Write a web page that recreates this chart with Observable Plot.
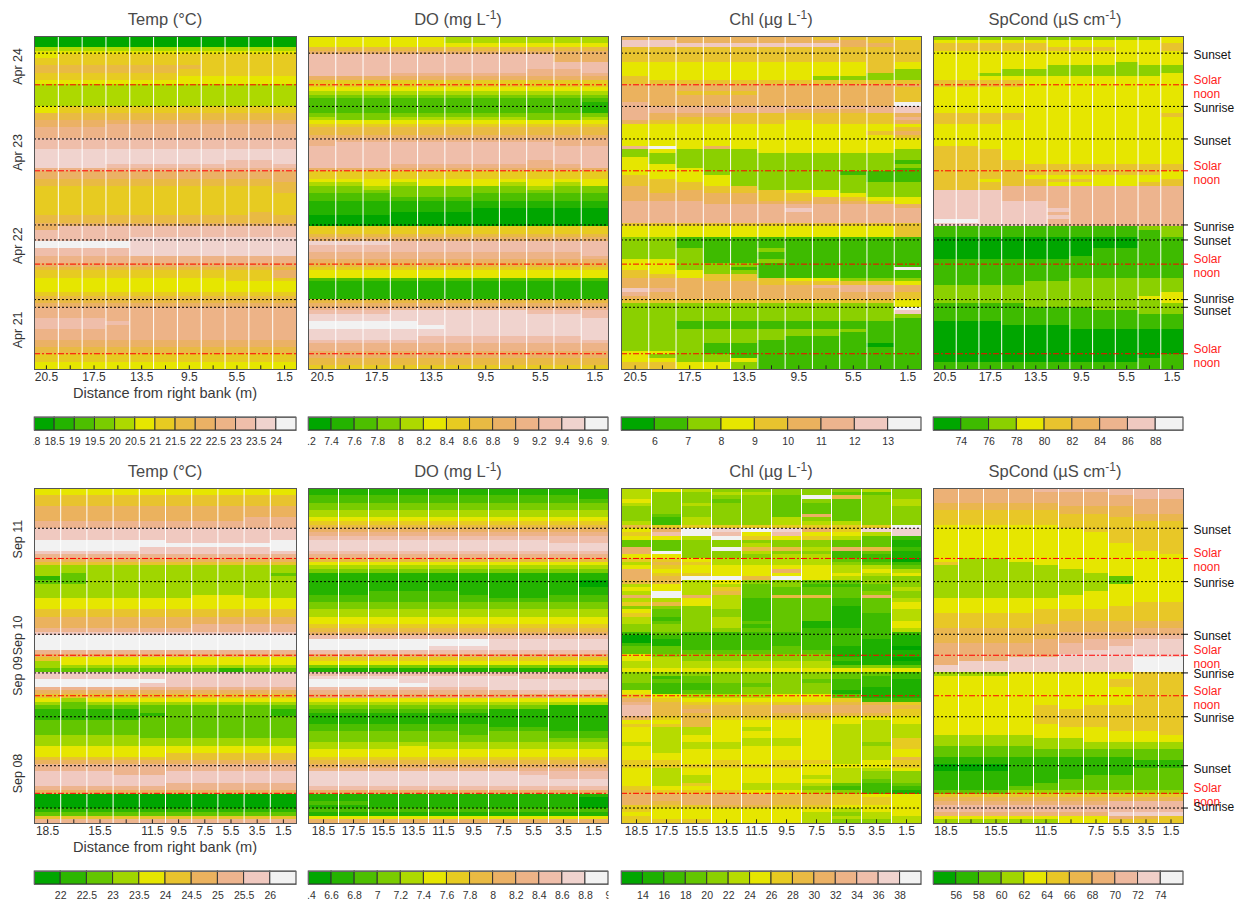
<!DOCTYPE html>
<html>
<head>
<meta charset="utf-8">
<script src="https://cdn.jsdelivr.net/npm/d3@7"></script>
<script src="https://cdn.jsdelivr.net/npm/@observablehq/plot@0.6"></script>
<style>
  html, body { margin: 0; padding: 0; background: #fff; }
  #page { position: relative; width: 1237px; height: 905px; overflow: hidden; font-family: "Liberation Sans", Arial, sans-serif; }
  #page svg { position: absolute; }
  .title { position: absolute; transform: translate(-50%, -50%); font-size: 16.5px; color: #4a4a4a; white-space: nowrap; }
  .title sup { font-size: 12px; line-height: 0; vertical-align: 6px; }
  .xname { position: absolute; transform: translate(-50%, -50%); font-size: 14.6px; color: #3a3a3a; white-space: nowrap; }
</style>
</head>
<body>
<div id="page"></div>
<script>
// Each entry is a run of time rows: "NxCCC" = N rows, no prefix = 1 row.
// Characters are colour classes (base 36); one character means the whole row.
const tempApr = ["3x0","4","5","56666666666","2x6","77777776666","77777766666","6","66666655555","5","6x4","2x56666666666","2x7","8","88899999999","3x9","3xa","3xb","bbbbbbbbaab","bbbaaaaaaaa","9","2x8","77777777778","7","2x66666666667","5x6","66666666676","2x7","8","8aaaaaaaaaa","2xa","aaaabbbbbbb","2xccccbbbbbbb","2xaaaabbbbbbb","2x9","8","7","2x66666666668","55555555666","3x5","6","2x7","8","3x9","aaa99999999","aaaa9999999","aaa99999999","3x9","2x8","2x7","2x6","2x5"];
const doApr = ["2x55555444444","5","7","8","2xaaaaaaaaa88","2xa","aaaaaaaa99a","aaa99999999","8","6","6","5","4","3","2","22222222221","22222222221","22222222221","3","43344444334","5","6","2x7","8","9","9aaaaaaaa99","4xa","aaaaaaaa9aa","aaa9999999a","8","6","6","5","44545554545","33433333433","3","22233322222","2","2x1","11111100000","11100000000","3x0","2x6","7","8","bbbaaaaaaaa","2xa","9999999999a","9","8","7","6","2x5","2","5x1","7","8","9","aaabbbbbaaa","bbbbbbbbbba","b","ccccbbbbbbb","cccccbbbbbb","2xb","bbbbaaaaaab","a","2x9","2x8","2x7","6"];
const chlApr = ["55555554443","77555555544","77777777554","4x4","33333333343","33333333343","33333333342","33333333322","43333332222","4","5","55555555554","55444555554","55555555554","55555555554","65555555558","66666666667","66666655567","65554444445","65444444446","54444434445","3","33333333334","33333333345","33333333334","2x3","68353333333","23222333332","2","32222222222","32222222221","33222222222","33322222221","33322222111","43332222211","44332222211","44432222222","54444222222","54544433222","55555443322","55555445433","66655555543","66666666665","66666676666","3x6","4","3x33333333334","22111111111","22111111111","22111111111","22211211111","22211111111","22211111111","33211211111","33222111111","33221111118","43322111111","44344111111","55544433222","55555444443","55555556665","76555555665","65555555554","55555555554","44444444443","22222222223","22222222228","22222222227","2","22222222221","2x22111111111","22222222211","22222222111","22222211111","22222111111","22211111101","22211111111","33211111111","32221111111","33223111111","44332111111","44332111111"];
const spApr = ["22222222223","3","44444333334","44444444334","3","2x3","33333333233","33333222222","33322222222","33222222223","3","44443333333","44443333333","7x3","44443333334","44443333333","44433333333","6x3","44333333333","3x44433333333","44443333333","2x4","44444444443","44443333333","44344443334","44444333344","44466666666","2x77766666666","77766666666","2x77777666666","77777766666","77777666666","77777766666","88777666666","77777666666","11111111122","2x11111111112","3x00000000011","00000001111","00000001111","00000011111","5x1","11111122222","11112222222","2x2","22222222223","22222222233","22222222223","11112222222","11111112222","11111111122","1","1","00011111111","00000011111","7x0","00000000001","00000000011","2x1"];
const tempSep = ["2x4","3x5","3x6","6666666677","2x7","3x8","9999988889","9","9999888889","8","7","6","5","2x3","3233333332","1233333333","2233333333","3x3","3333334433","3x4","5","5","6","6","6666667777","7","8","4x9","7","6","5444444444","3444444444","3","2222222122","2x8","9999988888","9999888888","7","6","5","4344444444","3233333333","2","1111222221","1111122221","1111222222","3x2","2","3333222222","2x3","4","4","4444455555","5","6","2x7","8887788888","2x8","8888877777","7","6","4x0","1","2","5","7"];
const doSep = ["2x1","2222222221","2","2x3","4","4","5","6","7","8","9","a","bbbbbbbbaa","2xb","a","9","7","5","4","3","1","1","1111111110","1111111110","1","1122211111","2222221122","2","2x3","2x4","2x5","6","7","8","a","2xccccccbbbb","ccccbbbbbb","a","8","6","5","3","1","a","bbbbbbbaaa","cccbbbbbbb","ccccbbbbbb","aaaaaabbbb","9999999aaa","8","5","4","3333333311","2222221111","3x1","2222221111","2222222211","3333323322","3333333322","3","4","4445444444","2x5","6","7","8","9","bbbbbbbaaa","bbbbbbbbaa","2xb","a","8","1","1111111110","2211111110","1111111110","2","1","5","8"];
const chlSep = ["5654444454","5445544334","544443d844","6443434345","5454433345","4444433344","4444433344","4344439344","4254454344","5254455544","877777777d","69dcdc97cc","7bdb6b665c","665d767532","3344444331","3344544331","934d885982","9d44544231","6644455221","7765555320","5875555432","6766666553","9666696565","9776666656","98dd8d6544","8856443344","5655342234","6657333335","5d58333344","9d95388394","5565233235","7865233236","4445233136","6344233135","7344233125","5245233125","5345331126","4445231126","4444332225","2322222222","0222222221","0122222211","2122222211","3322232110","3333333111","6444444111","6544444210","5555555111","5555555343","6","4444444332","4234444322","4334443221","3223344221","3223444211","6233444111","7655566311","9766666722","a877777887","b888899998","b898899997","b888888887","9787777666","6686666656","7786666555","6556566555","6556666555","6566666555","6566556557","5555556547","6555666557","6566666556","6666666556","6666666558","7767677567","7777776667","6566666556","6566666544","6556665544","6556666534","6576555323","7666554222","8777665421","9999988766","9999988776","9899988776","7778877666","7666666566","6666665456","7666665555","7776665445"];
const spSep = ["7777888888","7777777888","7777777788","7","6666677777","6666666677","5555566677","5555555666","5555555566","5","4444455555","4444445555","3x4444444555","2x4444444455","4444444445","4","4334444444","5333444444","3333344444","3333334444","3333333444","3333333244","3333333244","2x3333333444","3333334444","3333344444","4","4444444455","4444444555","4444555555","2x5","5555566666","5555666666","6666666677","6666677777","6666677788","6666778899","7777788899","7777788999","7777789999","7777799999","77799999aa","79999999aa","2x99999999aa","3334444455","4444444455","2x4444444555","4444444455","3x4444444455","4444444455","4444545555","4x4444555555","4444455555","4444444555","4444444445","3333444444","3333334444","3","2222333333","2","2222222222","1111111122","1","0001111111","0001111122","1111111122","1111112222","1111122222","1111222222","1112222222","2223333333","5","6","7777777888","8","8","7777777999","4444444765","3333344555"];

const colsApr = ["20.5","18.5","17.5","15.5","13.5","11.5","9.5","7.5","5.5","3.5","1.5"];
const colsSep = ["18.5","17.5","15.5","13.5","11.5","9.5","7.5","5.5","3.5","1.5"];
const shownApr = ["20.5","17.5","13.5","9.5","5.5","1.5"];
const shownTempSep = ["18.5","15.5","11.5","9.5","7.5","5.5","3.5","1.5"];
const shownSpSep = ["18.5","15.5","11.5","7.5","5.5","3.5","1.5"];

// Day-marker lines, in time rows from the top of a panel
const sunAprRows = [4.55, 19.1, 28, 51.5, 55.6, 71.9, 74];
const noonAprRows = [13.2, 36.7, 62.2, 86.7];
const sunSepRows = [10.8, 25.3, 39.6, 50.1, 62, 75.3, 86.8];
const noonSepRows = [19, 45.3, 56.3, 82.8];

const datesApr = ["Apr 24","Apr 23","Apr 22","Apr 21"];
const dateRowsApr = [13.2, 36.7, 62.2, 85.2];
const datesSep = ["Sep 11","Sep 10","Sep 09","Sep 08"];
const dateRowsSep = [19, 45.3, 56.3, 82.8];

const sideTextApr = ["Sunset","Solar\nnoon","Sunrise","Sunset","Solar\nnoon","Sunrise","Sunset","Solar\nnoon","Sunrise","Sunset","Solar\nnoon"];
const sideRowsApr = [4.9, 13.66, 19.5, 28.3, 37.2, 51.8, 55.8, 62.6, 71.5, 74.9, 87.1];
const sideTextSep = ["Sunset","Solar\nnoon","Sunrise","Sunset","Solar\nnoon","Sunrise","Solar\nnoon","Sunrise","Sunset","Solar\nnoon","Sunrise"];
const sideRowsSep = [11.07, 19.2, 25.5, 39.9, 45.6, 50.3, 56.7, 62.2, 76.1, 83, 86.4];

// Colour-key class breaks
const keyTempApr = [18,18.5,19,19.5,20,20.5,21,21.5,22,22.5,23,23.5,24,24.5];
const keyDoApr = [7.2,7.4,7.6,7.8,8,8.2,8.4,8.6,8.8,9,9.2,9.4,9.6,9.8];
const keyChlApr = [5,6,7,8,9,10,11,12,13,14];
const keySpApr = [72,74,76,78,80,82,84,86,88,90];
const keyTempSep = [21.5,22,22.5,23,23.5,24,24.5,25,25.5,26,26.5];
const keyDoSep = [6.4,6.6,6.8,7,7.2,7.4,7.6,7.8,8,8.2,8.4,8.6,8.8,9];
const keyChlSep = [12,14,16,18,20,22,24,26,28,30,32,34,36,38,40];
const keySpSep = [54,56,58,60,62,64,66,68,70,72,74,76];

const ROWS = 91;
const page = document.getElementById("page");

// R's terrain.colors(n)
function terrain(n) {
  const k = Math.floor(n / 2);
  const seq = (a, b, m) => d3.range(m).map(i => m === 1 ? a : a + (b - a) * i / (m - 1));
  const hsv = (h, s, v) => {
    const f = (q) => { const c = (q + h * 6) % 6; return v - v * s * Math.max(0, Math.min(c, 4 - c, 1)); };
    return d3.rgb(f(5) * 255, f(3) * 255, f(1) * 255).formatHex();
  };
  const a = d3.zip(seq(4/12, 2/12, k), seq(1, 1, k), seq(.65, .9, k));
  const b = d3.zip(seq(2/12, 0, n - k + 1), seq(1, 0, n - k + 1), seq(.9, .95, n - k + 1)).slice(1);
  return [...a, ...b].map(([h, s, v]) => hsv(h, s, v));
}

function cells(runs, nCols) {
  const out = [];
  let row = 0;
  for (const run of runs) {
    const m = run.match(/^(\d+)x(.+)$/);
    const count = m ? +m[1] : 1;
    const s = m ? m[2] : run;
    for (let c = 0; c < nCols; c++) {
      const ch = s.length === 1 ? s : s[Math.min(c, s.length - 1)];
      out.push({ x1: c, x2: c + 1, y1: row, y2: row + count, cls: parseInt(ch, 36) });
    }
    row += count;
  }
  return out;
}

function panel(o) {
  const n = o.cols.length, ml = 34, mr = 60;
  const nClasses = o.key.length - 1;
  const tickAt = d3.range(n).map(i => i + .5);
  const shownAt = o.shown.map(l => o.cols.indexOf(l) + .5);
  const marks = [
    Plot.rect(cells(o.runs, n), { x1: "x1", x2: "x2", y1: "y1", y2: "y2", fill: "cls", shapeRendering: "crispEdges" }),
    Plot.ruleX(d3.range(1, n), { stroke: "#fff", strokeWidth: 1 }),
    Plot.ruleY(o.sun, { stroke: "#000", strokeWidth: 1, strokeDasharray: "2,2" }),
    Plot.ruleY(o.noon, { stroke: "#f00", strokeWidth: 1, strokeDasharray: "6,2,2,2" }),
    Plot.frame({ stroke: "#555", strokeWidth: 1 }),
    Plot.ruleX(tickAt, { y1: ROWS, y2: ROWS - 1, stroke: "#222" }),
    Plot.axisX({ ticks: shownAt, tickSize: 0, tickPadding: 3, tickFormat: v => o.cols[v - .5], fontSize: 12, label: null, fill: "#333" })
  ];
  if (o.dates) {
    marks.push(Plot.text(o.dates, { text: d => d, y: (d, i) => o.dateRows[i], frameAnchor: "left", dx: -17, rotate: -90, fontSize: 12.5, fill: "#333" }));
  }
  if (o.side) {
    const tickEnd = n * (1 + 5 / o.width);
    marks.push(Plot.ruleY(o.sun, { x1: n, x2: tickEnd, stroke: "#000" }));
    marks.push(Plot.ruleY(o.noon, { x1: n, x2: tickEnd, stroke: "#f00" }));
    marks.push(Plot.text(o.side, {
      text: d => d, y: (d, i) => o.sideRows[i], x: n, dx: 10, textAnchor: "start", fontSize: 12, lineHeight: 1.18,
      fill: d => d.startsWith("Solar") ? "#f22" : "#111"
    }));
  }
  const svg = Plot.plot({
    width: o.width + ml + mr, height: o.height + 21,
    marginLeft: ml, marginRight: mr, marginTop: 0, marginBottom: 21,
    x: { domain: [0, n], axis: null },
    y: { domain: [ROWS, 0], axis: null },
    color: { type: "ordinal", domain: d3.range(nClasses), range: terrain(nClasses) },
    style: { background: "transparent", fontFamily: "Liberation Sans, Arial, sans-serif", overflow: "visible" },
    marks
  });
  svg.style.left = (o.left - ml) + "px";
  svg.style.top = o.top + "px";
  page.append(svg);

  const title = document.createElement("div");
  title.className = "title";
  title.innerHTML = o.title;
  title.style.left = (o.left + o.width / 2 + (o.titleShift || 0)) + "px";
  title.style.top = (o.top - 17) + "px";
  page.append(title);

  if (o.xname) {
    const x = document.createElement("div");
    x.className = "xname";
    x.textContent = "Distance from right bank (m)";
    x.style.left = (o.left + o.width / 2) + "px";
    x.style.top = (o.top + o.height + 24) + "px";
    page.append(x);
  }

  // colour key: labels at either end are cut by the key's own edge, as in the reference
  const pairs = d3.pairs(o.key);
  const keySvg = Plot.plot({
    width: o.width + 2, height: o.keyH + 24,
    marginLeft: 1, marginRight: 1, marginTop: 1, marginBottom: 23,
    x: { domain: [o.key[0], o.key[nClasses]], axis: null },
    color: { type: "ordinal", domain: d3.range(nClasses), range: terrain(nClasses) },
    style: { background: "transparent", fontFamily: "Liberation Sans, Arial, sans-serif", overflow: "hidden", clipPath: "inset(0 0.5px 0 0.5px)" },
    marks: [
      Plot.rect(pairs, { x1: d => d[0], x2: d => d[1], fill: (d, i) => i, stroke: "#333", strokeWidth: 1 }),
      Plot.frame({ stroke: "#666" }),
      Plot.axisX({ ticks: o.key.filter(k => o.keyShown(k)), tickSize: 0, tickPadding: 7, tickFormat: d => String(d), fontSize: 10.5, label: null, fill: "#333" })
    ]
  });
  keySvg.style.left = (o.left - 1) + "px";
  keySvg.style.top = (o.keyTop - 1) + "px";
  page.append(keySvg);
}

const inner = (key) => (k) => key.slice(1, -1).includes(k);
const aprBase = { cols: colsApr, shown: shownApr, sun: sunAprRows, noon: noonAprRows, top: 36, height: 333, keyTop: 417, keyH: 13 };
const sepBase = { cols: colsSep, sun: sunSepRows, noon: noonSepRows, top: 488, height: 335, keyTop: 871, keyH: 13 };

panel({ ...aprBase, title: "Temp (°C)", runs: tempApr, left: 34, width: 262, dates: datesApr, dateRows: dateRowsApr, xname: true, key: keyTempApr, keyShown: k => k !== 24.5 });
panel({ ...aprBase, title: "DO (mg L<sup>-1</sup>)", runs: doApr, left: 308, width: 300, key: keyDoApr, keyShown: () => true });
panel({ ...aprBase, title: "Chl (µg L<sup>-1</sup>)", runs: chlApr, left: 621, width: 300, key: keyChlApr, keyShown: inner(keyChlApr) });
panel({ ...aprBase, title: "SpCond (µS cm<sup>-1</sup>)", runs: spApr, left: 933, width: 250, titleShift: -3, side: sideTextApr, sideRows: sideRowsApr, key: keySpApr, keyShown: inner(keySpApr) });

panel({ ...sepBase, title: "Temp (°C)", runs: tempSep, shown: shownTempSep, left: 34, width: 262, dates: datesSep, dateRows: dateRowsSep, xname: true, key: keyTempSep, keyShown: inner(keyTempSep) });
panel({ ...sepBase, title: "DO (mg L<sup>-1</sup>)", runs: doSep, shown: colsSep, left: 308, width: 300, key: keyDoSep, keyShown: () => true });
panel({ ...sepBase, title: "Chl (µg L<sup>-1</sup>)", runs: chlSep, shown: colsSep, left: 621, width: 300, key: keyChlSep, keyShown: inner(keyChlSep) });
panel({ ...sepBase, title: "SpCond (µS cm<sup>-1</sup>)", runs: spSep, shown: shownSpSep, left: 933, width: 250, titleShift: -3, side: sideTextSep, sideRows: sideRowsSep, key: keySpSep, keyShown: inner(keySpSep) });
</script>
</body>
</html>
